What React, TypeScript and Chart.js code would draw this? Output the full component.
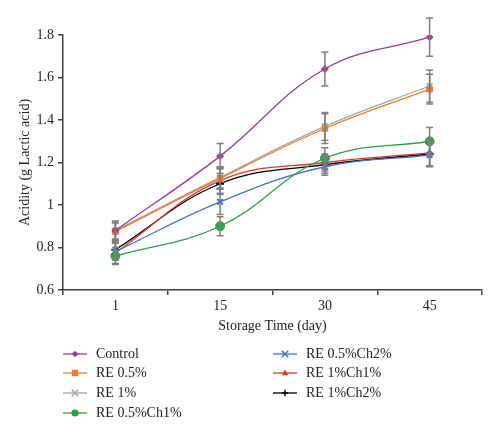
import React, { useEffect, useRef } from "react";
import { Chart, registerables } from "chart.js";

Chart.register(...registerables);

const categories = ["1", "15", "30", "45"];
const seriesNames = ["Control", "RE 0.5%", "RE 1%", "RE 0.5%Ch1%", "RE 0.5%Ch2%", "RE 1%Ch1%", "RE 1%Ch2%"];
const control = [0.88, 1.23, 1.64, 1.79];
const re05 = [0.875, 1.125, 1.36, 1.545];
const re1 = [0.88, 1.13, 1.37, 1.56];
const re05ch1 = [0.76, 0.9, 1.22, 1.3];
const re05ch2 = [0.78, 1.015, 1.18, 1.235];
const re1ch1 = [0.775, 1.115, 1.2, 1.245];
const re1ch2 = [0.79, 1.1, 1.19, 1.24];
const errControl = [0.04, 0.06, 0.08, 0.09];
const errRe05 = [0.04, 0.05, 0.07, 0.07];
const errRe1 = [0.045, 0.05, 0.065, 0.075];
const errRe05ch1 = [0.04, 0.045, 0.05, 0.065];
const errRe05ch2 = [0.04, 0.06, 0.04, 0.05];
const errRe1ch1 = [0.05, 0.06, 0.04, 0.06];
const errRe1ch2 = [0.04, 0.05, 0.04, 0.06];
const yTicks = { min: 0.6, max: 1.8, step: 0.2 };

const colors = ["#9b3a9b", "#ed7d31", "#a5a5a5", "#2ea04b", "#4472c4", "#d33a2c", "#000000"];
const styles = ["rectRot", "rect", "crossRot", "circle", "crossRot", "triangle", "cross"];
const radii = [3.5, 4, 4, 4.5, 4, 4, 4];
const values = [control, re05, re1, re05ch1, re05ch2, re1ch1, re1ch2];
const errors = [errControl, errRe05, errRe1, errRe05ch1, errRe05ch2, errRe1ch1, errRe1ch2];

const FONT = "'Liberation Serif', 'DejaVu Serif', serif";

const errorBarPlugin = {
  id: "errorBars",
  afterDatasetsDraw(chart: any) {
    const ctx = chart.ctx;
    const y = chart.scales.y;
    ctx.save();
    ctx.strokeStyle = "#7f7f7f";
    ctx.lineWidth = 1.5;
    chart.data.datasets.forEach((ds: any, i: number) => {
      const meta = chart.getDatasetMeta(i);
      meta.data.forEach((pt: any, j: number) => {
        const v = ds.data[j];
        const e = errors[i][j];
        const top = y.getPixelForValue(v + e);
        const bot = y.getPixelForValue(v - e);
        ctx.beginPath();
        ctx.moveTo(pt.x, top);
        ctx.lineTo(pt.x, bot);
        ctx.moveTo(pt.x - 3.5, top);
        ctx.lineTo(pt.x + 3.5, top);
        ctx.moveTo(pt.x - 3.5, bot);
        ctx.lineTo(pt.x + 3.5, bot);
        ctx.stroke();
      });
    });
    ctx.restore();
  },
};

function drawPoint(ctx: CanvasRenderingContext2D, style: string, x: number, y: number, r: number) {
  ctx.beginPath();
  if (style === "circle") {
    ctx.arc(x, y, r, 0, Math.PI * 2);
    ctx.fill();
  } else if (style === "rect") {
    ctx.fillRect(x - r, y - r, 2 * r, 2 * r);
  } else if (style === "rectRot") {
    ctx.moveTo(x, y - r * 1.2);
    ctx.lineTo(x + r * 1.2, y);
    ctx.lineTo(x, y + r * 1.2);
    ctx.lineTo(x - r * 1.2, y);
    ctx.closePath();
    ctx.fill();
  } else if (style === "triangle") {
    ctx.moveTo(x, y - r * 1.1);
    ctx.lineTo(x + r, y + r * 0.7);
    ctx.lineTo(x - r, y + r * 0.7);
    ctx.closePath();
    ctx.fill();
  } else if (style === "crossRot") {
    ctx.moveTo(x - r, y - r);
    ctx.lineTo(x + r, y + r);
    ctx.moveTo(x + r, y - r);
    ctx.lineTo(x - r, y + r);
    ctx.stroke();
  } else if (style === "cross") {
    ctx.moveTo(x, y - r);
    ctx.lineTo(x, y + r);
    ctx.moveTo(x - r, y);
    ctx.lineTo(x + r, y);
    ctx.stroke();
  }
}

const legendPlugin = {
  id: "customLegend",
  afterDraw(chart: any) {
    const ctx = chart.ctx;
    ctx.save();
    ctx.font = `14px ${FONT}`;
    ctx.textBaseline = "middle";
    const cols = [63, 273];
    const rowY = [354, 373, 393, 413];
    seriesNames.forEach((name, i) => {
      const col = i < 4 ? 0 : 1;
      const row = i < 4 ? i : i - 4;
      const x = cols[col];
      const yy = rowY[row];
      ctx.strokeStyle = colors[i];
      ctx.lineWidth = 1.3;
      ctx.beginPath();
      ctx.moveTo(x, yy);
      ctx.lineTo(x + 24, yy);
      ctx.stroke();
      ctx.fillStyle = colors[i];
      ctx.lineWidth = 1.5;
      drawPoint(ctx, styles[i], x + 12, yy, radii[i] * 0.8);
      ctx.fillStyle = "#222";
      ctx.fillText(name, x + 33, yy);
    });
    ctx.restore();
  },
};

export default function App() {
  const ref = useRef<HTMLCanvasElement>(null);
  useEffect(() => {
    if (!ref.current) return;
    const chart = new Chart(ref.current, {
      type: "line",
      data: {
        labels: categories,
        datasets: seriesNames.map((name, i) => ({
          label: name,
          data: values[i],
          borderColor: colors[i],
          backgroundColor: colors[i],
          borderWidth: 1.3,
          pointStyle: styles[i] as any,
          pointRadius: radii[i],
          pointBorderWidth: styles[i] === "crossRot" || styles[i] === "cross" ? 2 : 1,
          pointBorderColor: colors[i],
          pointBackgroundColor: colors[i],
          tension: 0.4,
          fill: false,
        })),
      },
      options: {
        animation: false,
        responsive: false,
        layout: { padding: { top: 35, right: 18, bottom: 101, left: 17 } },
        plugins: { legend: { display: false }, tooltip: { enabled: false } },
        scales: {
          x: {
            offset: true,
            border: { color: "#404040", width: 1.5 },
            grid: { offset: true, drawOnChartArea: false, drawTicks: true, tickLength: 5, color: "#404040", lineWidth: 1.5 },
            ticks: { color: "#222", font: { family: FONT, size: 14 }, padding: 3 },
            title: { display: true, text: "Storage Time (day)", color: "#222", font: { family: FONT, size: 14 }, padding: { top: 0, bottom: 0 } },
            afterFit: (s: any) => { s.height = 45; },
          },
          y: {
            min: yTicks.min,
            max: yTicks.max,
            border: { color: "#404040", width: 1.5 },
            grid: { drawOnChartArea: false, drawTicks: true, tickLength: 5, color: "#404040", lineWidth: 1.5 },
            ticks: {
              stepSize: yTicks.step,
              color: "#222",
              font: { family: FONT, size: 14 },
              padding: 4,
              callback: (v: any) => String(Number(Number(v).toFixed(1))),
            },
            title: { display: true, text: "Acidity (g Lactic acid)", color: "#222", font: { family: FONT, size: 14 }, padding: { top: 0, bottom: 0 } },
            afterFit: (s: any) => { s.width = 46; },
          },
        },
      },
      plugins: [errorBarPlugin, legendPlugin],
    });
    return () => chart.destroy();
  }, []);
  return (
    <div style={{ position: "fixed", left: 0, top: 0, width: 500, height: 436, background: "#fff" }}>
      <canvas ref={ref} width={500} height={436} style={{ width: 500, height: 436 }} />
    </div>
  );
}
